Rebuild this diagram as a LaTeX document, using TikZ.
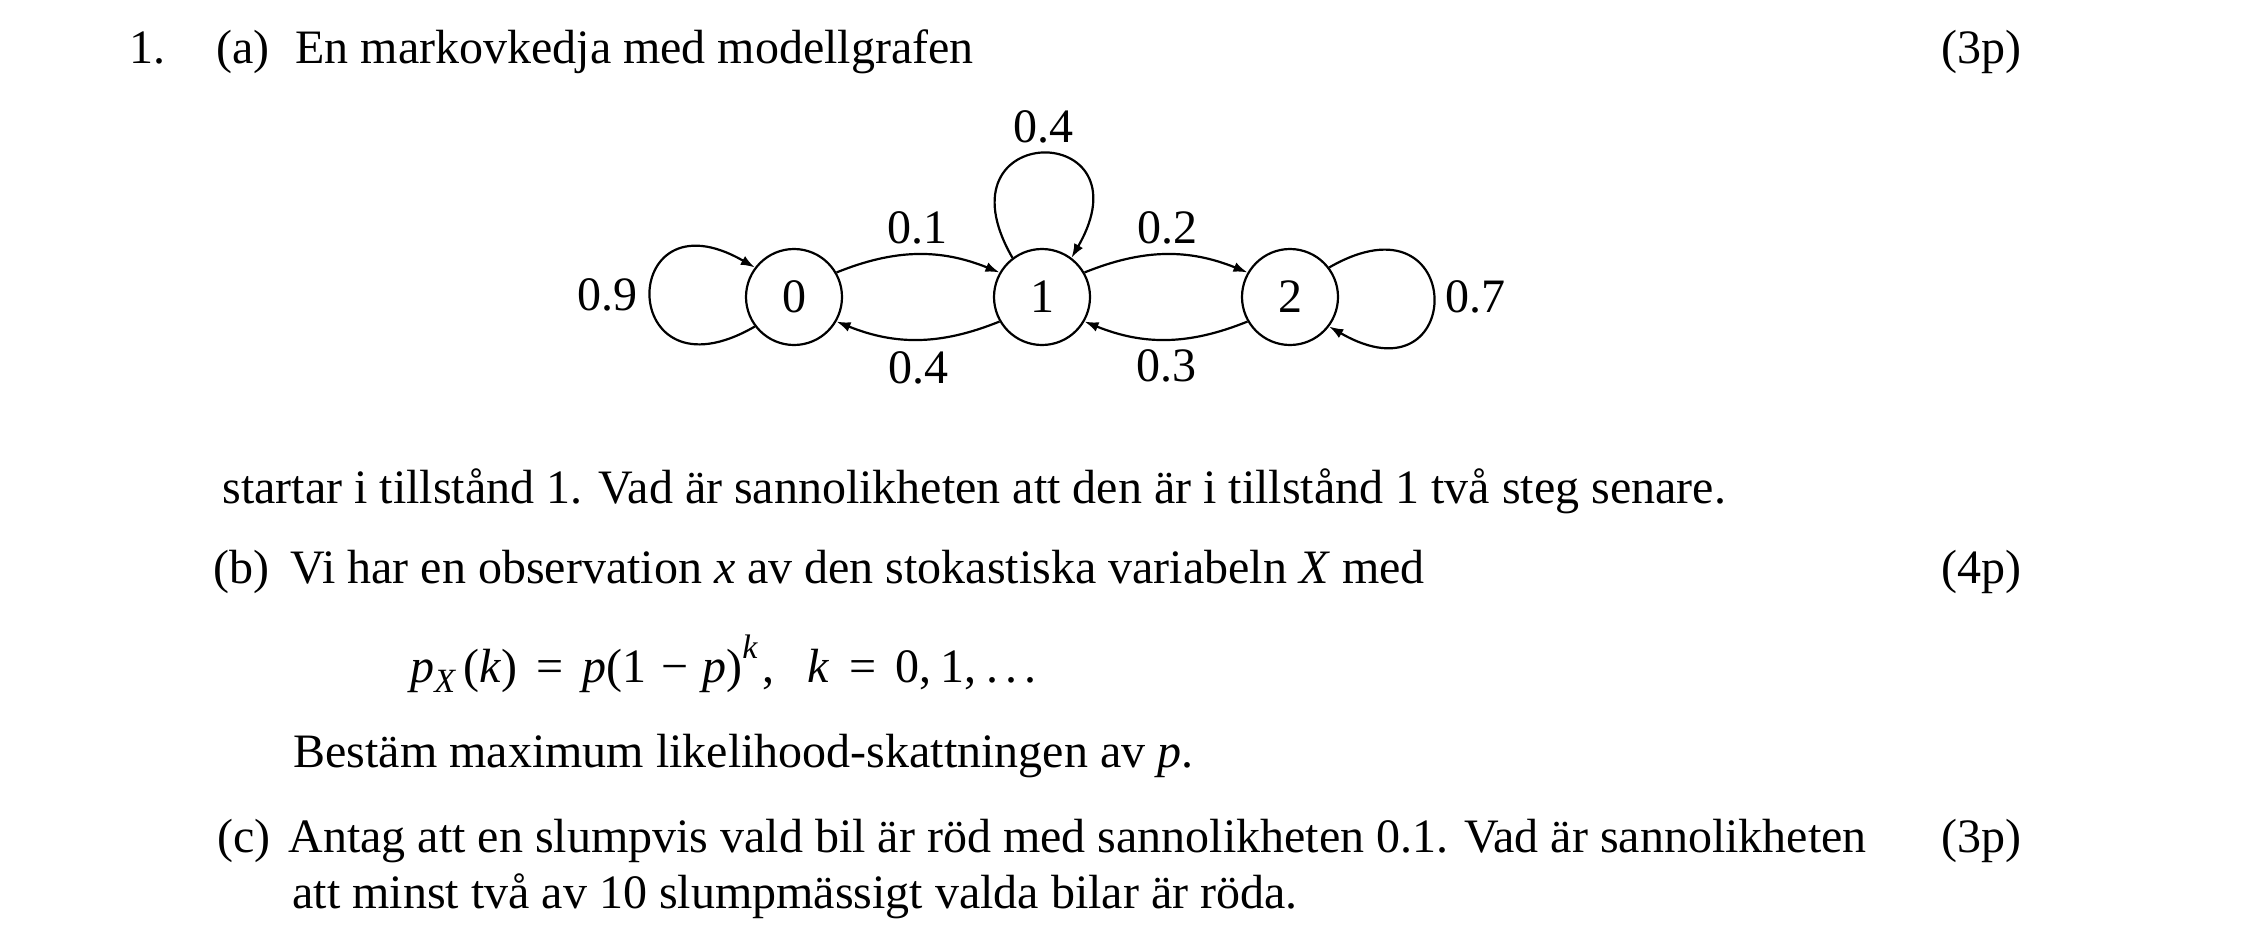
\documentclass[tikz,border=0pt]{standalone}
\usepackage{fontspec}
\setmainfont{Liberation Serif}
\usetikzlibrary{arrows.meta}
\newcommand{\mysub}[1]{\raisebox{-0.22em}{\fontsize{17}{20}\selectfont\itshape #1}}
\newcommand{\mysup}[1]{\raisebox{0.5em}{\fontsize{17}{20}\selectfont\itshape #1}}
\newcommand{\opsp}[1]{\hspace{0.4em}#1\hspace{0.4em}}
\begin{document}
\begin{tikzpicture}[x=0.5pt,y=0.5pt,
  txt/.style={anchor=base west,inner sep=0pt,font=\fontsize{24}{28}\selectfont},
  txtr/.style={anchor=base east,inner sep=0pt,font=\fontsize{24}{28}\selectfont},
  state/.style={circle,draw,line width=1.1pt,minimum size=48pt,inner sep=0pt,font=\fontsize{24}{28}\selectfont},
  prob/.style={inner sep=0pt,font=\fontsize{24}{28}\selectfont},
  arr/.style={line width=1.1pt,-{Latex[length=7pt,width=5pt]}}]
\fill[white] (0,0) rectangle (2242,-942);
\useasboundingbox (0,0) rectangle (2242,-942);

% header
\node[txt] (num) at (129,-63) {1.};
\node[txt] (la) at (216,-63) {(a)};
\node[txt] (ta) at (295,-63) {En markovkedja med modellgrafen};
\node[txtr] (pa) at (2022,-63) {(3p)};

% graph
\node[state] (n0) at (794,-297) {0};
\node[state] (n1) at (1042,-297) {1};
\node[state] (n2) at (1290,-297) {2};

\draw[arr] (n0.30) to[bend left=22] (n1.150);
\draw[arr] (n1.210) to[bend left=22] (n0.-30);
\draw[arr] (n1.30) to[bend left=22] (n2.150);
\draw[arr] (n2.210) to[bend left=22] (n1.-30);
\draw[arr] (n0.217) .. controls +(210:160) and +(150:160) .. (n0.143);
\draw[arr] (n1.127) .. controls +(120:160) and +(60:160) .. (n1.53);
\draw[arr] (n2.37) .. controls +(30:160) and +(-30:160) .. (n2.-37);

\node[prob] (l00) at (607,-295) {0.9};
\node[prob,anchor=west] (l22) at (1445,-297) {0.7};
\node[prob] (l01) at (917,-228) {0.1};
\node[prob] (l10) at (918,-368) {0.4};
\node[prob] (l12) at (1167,-228) {0.2};
\node[prob] (l21) at (1166,-366) {0.3};
\node[prob] (l11) at (1043,-127) {0.4};

% text
\node[txt] (ta2) at (222,-503) {startar i tillstånd 1. Vad är sannolikheten att den är i tillstånd 1 två steg senare.};

\node[txt] (lb) at (213,-583) {(b)};
\node[txt] (tb) at (290,-583) {Vi har en observation \textit{x} av den stokastiska variabeln \textit{X} med};
\node[txtr] (pb) at (2022,-583) {(4p)};

\node[txt] (fb) at (410,-682) {\textit{p}\mysub{X}\,(\textit{k})\opsp{=}\textit{p}(1\hspace{0.3em}−\hspace{0.3em}\textit{p})\mysup{k}\hspace{0.1em},\hspace{0.7em}\textit{k}\opsp{=}0,\hspace{0.2em}1,\hspace{0.2em}.\hspace{0.15em}.\hspace{0.15em}.};

\node[txt] (tb2) at (293,-767) {Bestäm maximum likelihood-skattningen av \textit{p}.};

\node[txt] (lc) at (217,-852) {(c)};
\node[txt] (tc) at (288,-852) {Antag att en slumpvis vald bil är röd med sannolikheten 0.1. Vad är sannolikheten};
\node[txtr] (pc) at (2022,-852) {(3p)};
\node[txt] (tc2) at (292,-908) {att minst två av 10 slumpmässigt valda bilar är röda.};
\end{tikzpicture}
\end{document}
